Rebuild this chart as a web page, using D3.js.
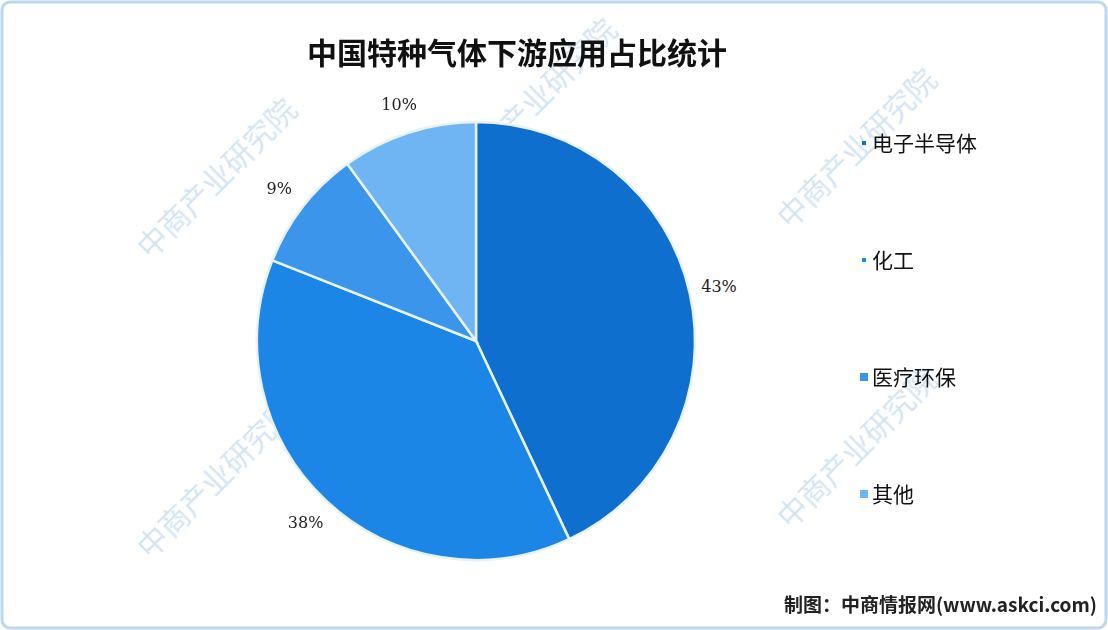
<!DOCTYPE html>
<html><head><meta charset="utf-8">
<script src="https://cdn.jsdelivr.net/npm/d3@7"></script>
<style>body{margin:0;background:#fff}</style>
</head><body>
<svg id="chart" width="1108" height="630"></svg>
<script>
// data
var values = [43, 38, 9, 10];
var labels = ["43%", "38%", "9%", "10%"];
var legendNames = ["电子半导体", "化工", "医疗环保", "其他"];
var colors = ["#0e6fce", "#1b86e6", "#3b95ea", "#6fb5f4"];
var legendSizes = [4, 4, 8, 8];

var svg = d3.select("#chart");
var W = 1108, H = 630;

// frame
svg.append("rect").attr("x", 2).attr("y", 2).attr("width", W - 4).attr("height", H - 4)
    .attr("rx", 8).attr("fill", "#fff").attr("stroke", "#bcd7ee").attr("stroke-width", 3);

// watermark (kept inside the frame)
var wm = svg.append("g").attr("fill", "#9ec3e4").attr("opacity", 0.45)
    .attr("font-family", "Noto Sans CJK SC").attr("font-size", 30);
[[150, 260], [470, 180], [790, 230], [150, 560], [470, 480], [790, 530]].forEach(function(p){
    wm.append("text").attr("transform", "translate(" + p[0] + "," + p[1] + ") rotate(-45)")
        .text("中商产业研究院");
});

svg.append("text").attr("x", 517).attr("y", 64).attr("text-anchor", "middle")
    .attr("font-family", "Noto Sans CJK SC").attr("font-weight", "bold").attr("font-size", 30)
    .attr("fill", "#111").text("中国特种气体下游应用占比统计");

var cx = 476, cy = 341, r = 219;
var pie = d3.pie().sort(null).value(function(d){ return d; });
var arc = d3.arc().innerRadius(0).outerRadius(r);
var labelArc = d3.arc().innerRadius(r + 30).outerRadius(r + 30);
var g = svg.append("g").attr("transform", "translate(" + cx + "," + cy + ")");
var arcs = pie(values);
g.selectAll("path").data(arcs).enter().append("path")
    .attr("d", arc).attr("fill", function(d, i){ return colors[i]; })
    .attr("stroke", "#e8f2fb").attr("stroke-width", 2.5);
g.selectAll("text").data(arcs).enter().append("text")
    .attr("transform", function(d){ return "translate(" + labelArc.centroid(d) + ")"; })
    .attr("text-anchor", "middle").attr("dy", "0.35em")
    .attr("font-family", "DejaVu Serif").attr("font-size", 16).attr("fill", "#222")
    .text(function(d, i){ return labels[i]; });

var lg = svg.append("g");
legendNames.forEach(function(name, i){
    var y = 143 + i * 117;
    lg.append("rect").attr("x", 864 - legendSizes[i] / 2).attr("y", y - legendSizes[i] / 2)
        .attr("width", legendSizes[i]).attr("height", legendSizes[i]).attr("fill", colors[i]);
    lg.append("text").attr("x", 872).attr("y", y).attr("dy", "0.36em")
        .attr("font-family", "Noto Sans CJK SC").attr("font-size", 21).attr("fill", "#111").text(name);
});

svg.append("text").attr("x", 1097).attr("y", 612).attr("text-anchor", "end")
    .attr("font-family", "Noto Sans CJK SC").attr("font-weight", "bold").attr("font-size", 19)
    .attr("fill", "#222").text("制图：中商情报网(www.askci.com)");
</script>
</body></html>
